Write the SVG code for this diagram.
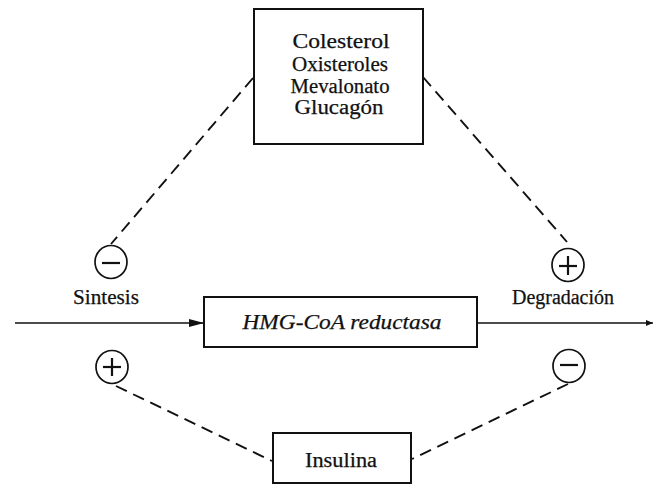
<svg xmlns="http://www.w3.org/2000/svg" width="655" height="488" viewBox="0 0 655 488">
  <defs>
    <style>
      .box { fill: #fff; stroke: #111; stroke-width: 2; }
      .dash { fill: none; stroke: #111; stroke-width: 1.9; stroke-dasharray: 12 7; }
      .flow { fill: none; stroke: #111; stroke-width: 1.6; }
      .sign { fill: #fff; stroke: #111; stroke-width: 1.7; }
      .mark { stroke: #111; stroke-width: 2.2; }
      .lbl { font-family: "Liberation Serif", "Times New Roman", serif; font-size: 20px; fill: #111; stroke: #111; stroke-width: 0.25; text-anchor: middle; }
      .it { font-style: italic; }
    </style>
    <marker id="arrow" markerWidth="16" markerHeight="10" refX="15" refY="5" orient="auto" markerUnits="userSpaceOnUse">
      <path d="M0,1 L15,5 L0,9 Z" fill="#111"/>
    </marker>
    <marker id="tip" markerWidth="8" markerHeight="8" refX="7" refY="4" orient="auto" markerUnits="userSpaceOnUse">
      <path d="M0,1 L7,4 L0,7 Z" fill="#111"/>
    </marker>
  </defs>
  <rect width="655" height="488" fill="#fff"/>

  <!-- connectors -->
  <g id="connectors">
    <line class="flow" x1="15" y1="323" x2="204" y2="323" marker-end="url(#arrow)"/>
    <line class="flow" x1="477" y1="323" x2="653" y2="323" marker-end="url(#tip)"/>
    <line class="dash" x1="253" y1="78" x2="111" y2="244"/>
    <line class="dash" x1="423" y1="77" x2="567" y2="242"/>
    <line class="dash" x1="116" y1="386" x2="272" y2="461"/>
    <line class="dash" x1="568" y1="384" x2="412" y2="459"/>
  </g>

  <!-- regulators box -->
  <g id="regulators">
    <rect class="box" x="254" y="9" width="169" height="135"/>
    <text class="lbl" x="341" y="48" textLength="97" lengthAdjust="spacingAndGlyphs">Colesterol</text>
    <text class="lbl" x="340" y="71" textLength="96" lengthAdjust="spacingAndGlyphs">Oxisteroles</text>
    <text class="lbl" x="340" y="93" textLength="99" lengthAdjust="spacingAndGlyphs">Mevalonato</text>
    <text class="lbl" x="339" y="114" textLength="89" lengthAdjust="spacingAndGlyphs">Glucagón</text>
  </g>

  <!-- enzyme -->
  <g id="enzyme">
    <rect class="box" x="204" y="297" width="273" height="50"/>
    <text class="lbl it" x="342" y="329" textLength="199" lengthAdjust="spacingAndGlyphs">HMG-CoA reductasa</text>
  </g>

  <!-- insulin box -->
  <g id="insulin">
    <rect class="box" x="273" y="433" width="138" height="50"/>
    <text class="lbl" x="341" y="467" textLength="72" lengthAdjust="spacingAndGlyphs">Insulina</text>
  </g>

  <!-- pathway labels -->
  <g id="synthesis">
    <text class="lbl" x="106" y="304" textLength="66" lengthAdjust="spacingAndGlyphs">Sintesis</text>
  </g>
  <g id="degradation">
    <text class="lbl" x="563" y="304" textLength="102" lengthAdjust="spacingAndGlyphs">Degradación</text>
  </g>

  <!-- effect signs -->
  <g id="sign-minus-top">
    <ellipse class="sign" cx="111" cy="262" rx="16" ry="16.5"/>
    <line class="mark" x1="102" y1="263" x2="120" y2="263"/>
  </g>
  <g id="sign-plus-top">
    <ellipse class="sign" cx="568" cy="265" rx="16" ry="16.5"/>
    <line class="mark" x1="559" y1="266" x2="577" y2="266"/>
    <line class="mark" x1="568" y1="256" x2="568" y2="275"/>
  </g>
  <g id="sign-plus-bottom">
    <ellipse class="sign" cx="112" cy="367" rx="16" ry="16.5"/>
    <line class="mark" x1="103" y1="367" x2="121" y2="367"/>
    <line class="mark" x1="112" y1="358" x2="112" y2="376"/>
  </g>
  <g id="sign-minus-bottom">
    <ellipse class="sign" cx="569" cy="366" rx="16" ry="16.5"/>
    <line class="mark" x1="560" y1="365" x2="578" y2="365"/>
  </g>
</svg>
